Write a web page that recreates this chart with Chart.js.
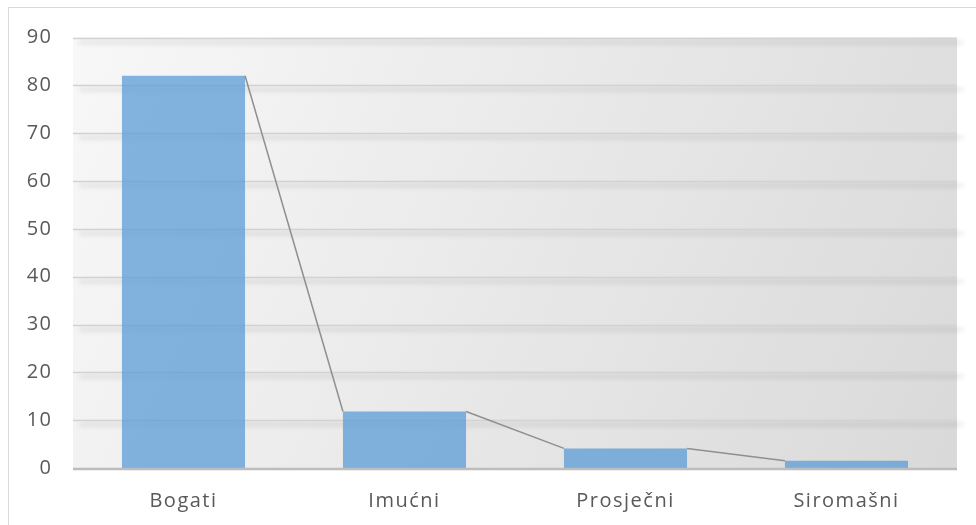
<!DOCTYPE html>
<html>
<head>
<meta charset="utf-8">
<script src="https://cdn.jsdelivr.net/npm/chart.js@4.4.1/dist/chart.umd.min.js"></script>
<style>
  html, body { margin: 0; padding: 0; background: #fff; }
  #wrap { position: relative; width: 976px; height: 525px; }
  #frame { position: absolute; left: 8px; top: 7px; width: 980px; height: 540px; border: 1px solid #d9d9d9; box-sizing: border-box; }
  canvas { position: absolute; left: 0; top: 0; }
</style>
</head>
<body>
<div id="wrap">
  <div id="frame"></div>
  <canvas id="myChart" width="976" height="525"></canvas>
</div>
<script>
// data
const categories = ['Bogati', 'Imućni', 'Prosječni', 'Siromašni']
const shares = [82, 11.8, 4.1, 1.5]
const yTicks = [0, 10, 20, 30, 40, 50, 60, 70, 80, 90]

// slightly wide letter spacing like the original labels
const spacing = {
  id: 'spacing',
  beforeUpdate(chart) { chart.ctx.letterSpacing = '1.5px' },
  beforeDraw(chart) { chart.ctx.letterSpacing = '1.5px' }
}

// plot background, shadowed grid lines, series lines
const plotBack = {
  id: 'plotBack',
  beforeDatasetsDraw(chart) {
    const { ctx, chartArea: a, scales: { y } } = chart
    ctx.save()
    const g = ctx.createLinearGradient(a.left, a.top, a.right, a.bottom)
    g.addColorStop(0, '#f8f8f8')
    g.addColorStop(1, '#d9d9d9')
    ctx.fillStyle = g
    ctx.fillRect(a.left, a.top, a.right - a.left, a.bottom - a.top)
    yTicks.forEach(v => {
      if (v === 0) return
      const py = Math.round(y.getPixelForValue(v)) + 0.5
      ctx.save()
      ctx.shadowColor = 'rgba(0,0,0,0.22)'
      ctx.shadowBlur = 5
      ctx.shadowOffsetY = 4
      ctx.shadowOffsetX = 6
      ctx.strokeStyle = '#d2d2d2'
      ctx.lineWidth = 1.5
      ctx.beginPath()
      ctx.moveTo(a.left, py)
      ctx.lineTo(a.right, py)
      ctx.stroke()
      ctx.restore()
    })
    ctx.restore()
  },
  afterDatasetsDraw(chart) {
    const { ctx, chartArea: a, scales: { y } } = chart
    const bars = chart.getDatasetMeta(0).data
    ctx.save()
    ctx.strokeStyle = '#8f8f8f'
    ctx.lineWidth = 1.5
    for (let i = 0; i < bars.length - 1; i++) {
      const b = bars[i], n = bars[i + 1]
      ctx.beginPath()
      ctx.moveTo(b.x + b.width / 2, b.y)
      ctx.lineTo(n.x - n.width / 2, n.y)
      ctx.stroke()
    }
    const py0 = y.getPixelForValue(0) + 1
    ctx.strokeStyle = '#bdbdbd'
    ctx.lineWidth = 2.5
    ctx.beginPath()
    ctx.moveTo(a.left, py0)
    ctx.lineTo(a.right, py0)
    ctx.stroke()
    ctx.restore()
  }
}

const data = {
  labels: categories,
  datasets: [{
    data: shares,
    backgroundColor: 'rgba(91,155,213,0.75)',
    borderWidth: 0,
    categoryPercentage: 0.557,
    barPercentage: 1
  }]
}

const config = {
  type: 'bar',
  data: data,
  options: {
    responsive: false,
    animation: false,
    layout: { padding: { top: 37.5, right: 19, bottom: 0, left: 0 } },
    plugins: { legend: { display: false }, tooltip: { enabled: false } },
    scales: {
      x: {
        afterFit: s => { s.height = 57 },
        grid: { display: false, drawTicks: false },
        border: { display: false },
        ticks: { color: '#595959', padding: 21, maxRotation: 0, font: { family: 'Open Sans', size: 20 } }
      },
      y: {
        min: 0,
        max: 90,
        afterBuildTicks: s => { s.ticks = yTicks.map(v => ({ value: v })) },
        afterFit: s => { s.width = 73 },
        grid: { display: false, drawTicks: false },
        border: { display: false },
        ticks: { color: '#595959', padding: 20.5, font: { family: 'Open Sans', size: 20 } }
      }
    }
  },
  plugins: [spacing, plotBack]
}

var myChart = new Chart(document.getElementById('myChart'), config)
</script>
</body>
</html>
